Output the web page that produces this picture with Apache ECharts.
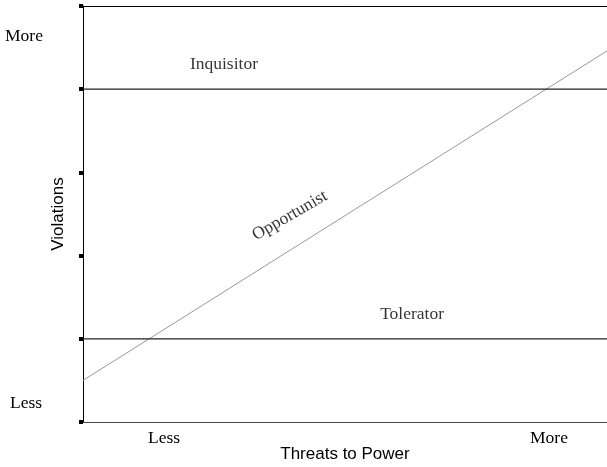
<!DOCTYPE html>
<html>
<head>
<meta charset="utf-8">
<script src="https://cdn.jsdelivr.net/npm/echarts@6/dist/echarts.min.js"></script>
<style>html,body{margin:0;padding:0;background:#fff}#c{width:607px;height:467px}</style>
</head>
<body>
<div id="c"></div>
<script>
// ---- data ----
const yTicks = [0, 1, 2, 3, 4, 5];
const inquisitorLevel = 4;
const toleratorLevel = 1;
const opportunistX = [0, 1];
const opportunistY = [0.5, 4.46];
const regionNames = ['Inquisitor', 'Tolerator', 'Opportunist'];
const regionX = [0.269, 0.628, 0.395];
const regionY = [4.30, 1.29, 2.48];
const yEndLabels = ['More', 'Less'];
const xEndLabels = ['Less', 'More'];
const xTitle = 'Threats to Power';
const yTitle = 'Violations';

const serif = '"Liberation Serif", "Times New Roman", serif';
const sans = '"Liberation Sans", Arial, sans-serif';

const chart = echarts.init(document.getElementById('c'));

function hLine(level, color) {
  return {
    type: 'line', data: [[0, level], [1, level]], symbol: 'none', silent: true,
    lineStyle: { color: color, width: 1.2 }, animation: false, z: 3
  };
}

const labelSeries = regionNames.map((n, i) => ({
  type: 'scatter', data: [[regionX[i], regionY[i]]], symbolSize: 0, silent: true,
  animation: false,
  label: {
    show: true, formatter: n, position: 'inside',
    fontFamily: serif, fontSize: 17.5, color: '#000',
    rotate: n === 'Opportunist' ? 30 : 0
  }
}));

chart.setOption({
  animation: false,
  grid: { left: 83, right: 0, top: 6, bottom: 45, containLabel: false, outerBoundsMode: 'none' },
  xAxis: [{
    type: 'value', min: 0, max: 1,
    name: xTitle, nameLocation: 'middle', nameGap: 24,
    nameTextStyle: { fontFamily: sans, fontSize: 17, color: '#000' },
    axisLine: { show: true, lineStyle: { color: '#444', width: 1 } },
    axisTick: { show: false }, axisLabel: { show: false }, splitLine: { show: false }
  }, {
    type: 'value', min: 0, max: 1, position: 'top',
    axisLine: { show: true, lineStyle: { color: '#000', width: 1 } },
    axisTick: { show: false }, axisLabel: { show: false }, splitLine: { show: false }
  }],
  yAxis: {
    type: 'value', min: yTicks[0], max: yTicks[yTicks.length - 1], interval: 1,
    name: yTitle, nameLocation: 'middle', nameGap: 16,
    nameTextStyle: { fontFamily: sans, fontSize: 17, color: '#000' },
    axisLine: { show: true, lineStyle: { color: '#000', width: 1 } },
    axisTick: { show: true, length: 4, lineStyle: { color: '#000', width: 4 } },
    axisLabel: { show: false }, splitLine: { show: false }
  },
  graphic: [
    { type: 'text', left: 5, top: 27, style: { text: yEndLabels[0], font: '17.5px ' + serif, fill: '#000' } },
    { type: 'text', left: 10, top: 394, style: { text: yEndLabels[1], font: '17.5px ' + serif, fill: '#000' } },
    { type: 'text', left: 148, top: 429, style: { text: xEndLabels[0], font: '17.5px ' + serif, fill: '#000' } },
    { type: 'text', left: 530, top: 429, style: { text: xEndLabels[1], font: '17.5px ' + serif, fill: '#000' } }
  ],
  series: [
    hLine(inquisitorLevel, '#222'),
    hLine(toleratorLevel, '#222'),
    {
      type: 'line', data: opportunistX.map((x, i) => [x, opportunistY[i]]),
      symbol: 'none', silent: true, lineStyle: { color: '#999', width: 1 }, z: 2
    },
    ...labelSeries
  ]
});
</script>
</body>
</html>
